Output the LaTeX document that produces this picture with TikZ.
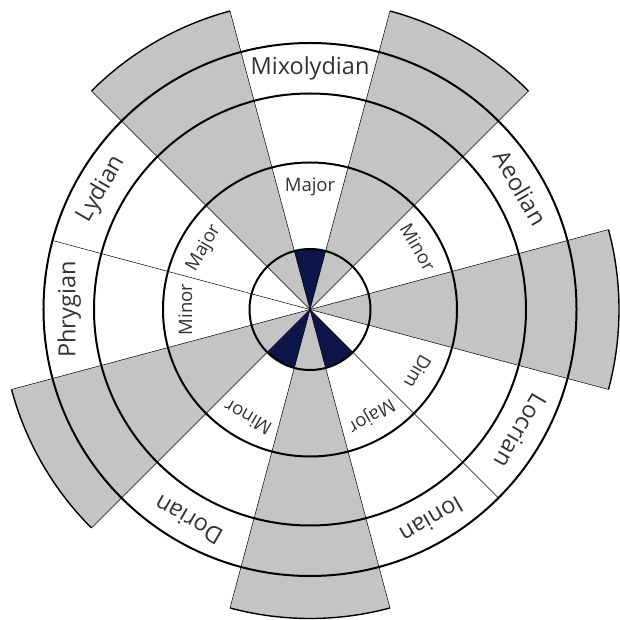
\documentclass[tikz,border=0pt]{standalone}
\usepackage{fontspec}
\setmainfont{Open Sans}
\definecolor{keygray}{RGB}{196,196,196}
\definecolor{navyfill}{RGB}{13,20,72}
\definecolor{txt}{RGB}{51,51,51}
\begin{document}
\begin{tikzpicture}[x=1pt,y=1pt,
  ring/.style={line width=2pt},
  spoke/.style={line width=0.5pt},
  rim/.style={line width=1.4pt},
  mode/.style={font=\fontsize{23.5}{27}\selectfont, text=txt, anchor=base, inner sep=0pt},
  chord/.style={font=\fontsize{18.5}{21}\selectfont, text=txt, anchor=base, inner sep=0pt}]
\useasboundingbox (-310,-310.5) rectangle (310,309.5);
% white key area
\fill[white] (0,0) circle (266.5);
% black key sectors
\foreach \a in {0,60,120,210,270} {
  \fill[keygray] (0,0) -- (\a-15:309) arc[start angle=\a-15, end angle=\a+15, radius=309] -- cycle;
}
% navy centres
\foreach \a in {90,240,300} {
  \fill[navyfill] (0,0) -- (\a-15:60.5) arc[start angle=\a-15, end angle=\a+15, radius=60.5] -- cycle;
}
% spokes
\foreach \a in {15,45,75,105,135,195,225,255,285,345} {
  \draw[spoke] (0,0) -- (\a:309);
}
\foreach \a in {165,315} {
  \draw[spoke] (0,0) -- (\a:266.5);
}
% rings
\foreach \r in {60.5,147,216,266.5} {
  \draw[ring] (0,0) circle (\r);
}
% outer rims of black key sectors
\foreach \a in {0,60,120,210,270} {
  \draw[rim] (\a-15:309) arc[start angle=\a-15, end angle=\a+15, radius=309];
}
% mode names
\node[mode, rotate=0] (mixolydian) at (90:234.5) {Mixolydian};
\node[mode, rotate=-60] (aeolian) at (30:234.5) {Aeolian};
\node[mode, rotate=-120] (locrian) at (-30:234.5) {Locrian};
\node[mode, rotate=-150] (ionian) at (-60:234.5) {Ionian};
\node[mode, rotate=-210] (dorian) at (-120:234.5) {Dorian};
\node[mode, rotate=90] (phrygian) at (180:234.5) {Phrygian};
\node[mode, rotate=60] (lydian) at (150:234.5) {Lydian};
% chord qualities
\node[chord, rotate=0] (q1) at (90:117.8) {Major};
\node[chord, rotate=-60] (q2) at (30:117.8) {Minor};
\node[chord, rotate=-120] (q3) at (-30:117.8) {Dim};
\node[chord, rotate=-150] (q4) at (-60:117.8) {Major};
\node[chord, rotate=-210] (q5) at (-120:117.8) {Minor};
\node[chord, rotate=90] (q6) at (180:117.8) {Minor};
\node[chord, rotate=60] (q7) at (150:117.8) {Major};
\end{tikzpicture}
\end{document}
